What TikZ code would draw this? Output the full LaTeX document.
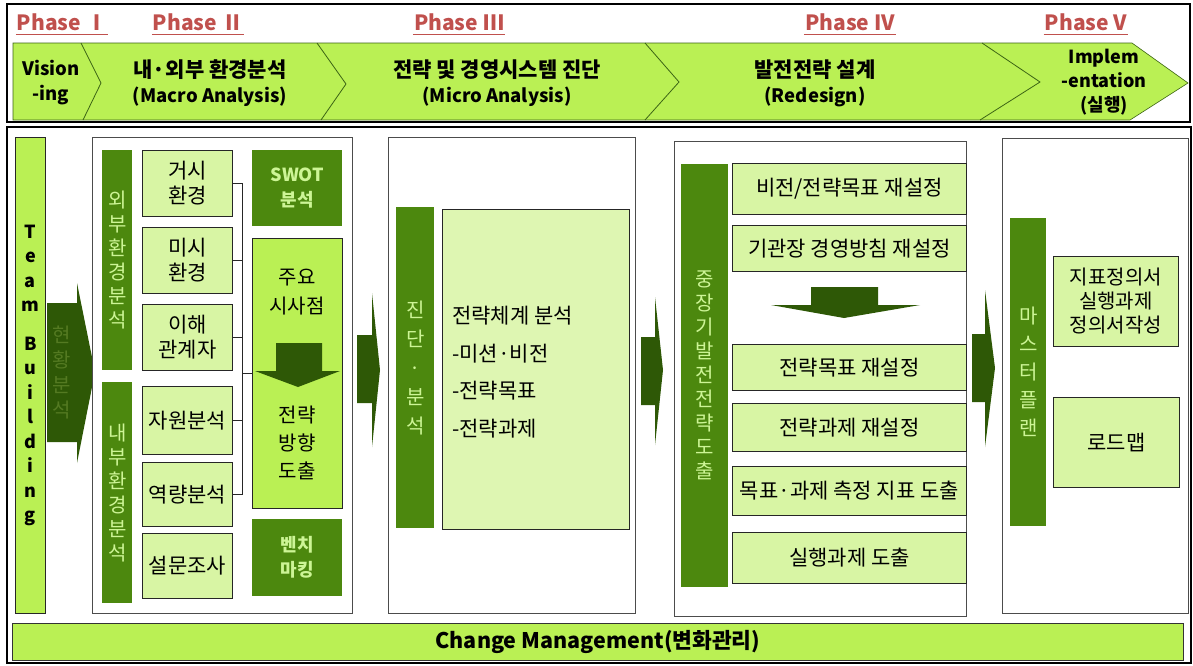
\documentclass[tikz,border=0pt]{standalone}
\usepackage{fontspec}
\setmainfont{Noto Sans CJK KR}
\usepackage{xcolor}
\usepackage{tikz}
\definecolor{bandgreen}{RGB}{186,240,84}
\definecolor{boxlight}{RGB}{216,245,164}
\definecolor{darkbar}{RGB}{76,136,14}
\definecolor{darkarrow}{RGB}{46,88,6}
\definecolor{barletter}{RGB}{205,245,150}
\definecolor{phasered}{RGB}{192,80,77}
\definecolor{bandline}{RGB}{60,100,20}
\definecolor{hyeonhwang}{RGB}{84,122,34}
\tikzset{
  ph_lab/.style = {text=phasered, inner xsep=1pt, inner ysep=0pt,
    font=\bfseries\fontsize{21}{21}\selectfont},% phase label
  band_txt/.style = {align=center, inner sep=0pt,
    font=\bfseries\fontsize{18.5}{25}\selectfont},% chevron band text
  panel/.style = {draw=black!70, line width=0.8pt, fill=white,
    anchor=north west, inner sep=0pt},% white phase panel
  box_l/.style = {draw=black!85, line width=0.8pt, fill=boxlight, anchor=north west,
    inner sep=0pt, align=center, font=\fontsize{21}{25}\selectfont},% light box
  box_g/.style = {box_l, fill=bandgreen},% band green box
  box_d/.style = {fill=darkbar, text=barletter, anchor=north west, inner sep=0pt,
    align=center, font=\bfseries\fontsize{18}{25}\selectfont},% dark box
  bar_v/.style = {fill=darkbar, text=barletter, anchor=north west, inner sep=0pt,
    align=center, font=\fontsize{20}{24}\selectfont}% vertical dark bar
}
\begin{document}
\begin{tikzpicture}[x=1pt,y=-1pt]
\useasboundingbox (0,0) rectangle (1193,665);
% phase header
\filldraw[fill=bandgreen, draw=bandline, line width=0.6pt]
  (13,43) -- (1132,43) -- (1188,83) -- (1130,120) -- (13,120) -- cycle;
\draw[bandline, line width=0.8pt] (81,43) -- (101,83) -- (83,120);
\draw[bandline, line width=0.8pt] (317,43) -- (346,84) -- (321,120);
\draw[bandline, line width=0.8pt] (645,43) -- (679,82) -- (645,120);
\draw[bandline, line width=0.8pt] (982,43) -- (1040,82) -- (980,120);
\draw[black, line width=2.5pt] (7,4) rectangle (1190,122);
\node[ph_lab] (ph1) at (62,22) {Phase Ⅰ};
\node[ph_lab] (ph2) at (198,22) {Phase Ⅱ};
\node[ph_lab] (ph3) at (459,22) {Phase Ⅲ};
\node[ph_lab] (ph4) at (850,22) {Phase IV};
\node[ph_lab] (ph5) at (1086,22) {Phase V};
\foreach \p in {ph1,ph2,ph3,ph4,ph5}
  \draw[phasered, line width=0.9pt] ([yshift=-4pt]\p.base west) -- ([yshift=-4pt]\p.base east);
\node[band_txt] (vis) at (51,83) {Vision\\-ing};
\node[band_txt] (macro) at (210,83) {{\fontsize{21}{25}\selectfont 내·외부 환경분석}\\(Macro Analysis)};
\node[band_txt] (micro) at (497,83) {{\fontsize{21}{25}\selectfont 전략 및 경영시스템 진단}\\(Micro Analysis)};
\node[band_txt] (redesign) at (815,83) {{\fontsize{21}{25}\selectfont 발전전략 설계}\\(Redesign)};
\node[band_txt, font=\bfseries\fontsize{18}{24}\selectfont] (impl) at (1104,82)
  {Implem\\-entation\\(실행)};
% body
\draw[black, line width=2pt] (7,127) rectangle (1191,663);
\node[draw=black!85, line width=0.8pt, fill=bandgreen, anchor=north west, inner sep=0pt,
  minimum width=30pt, minimum height=476pt] (team) at (15,137) {};
\node[align=center, font=\bfseries\fontsize{18}{24.5}\selectfont] (teamtxt) at (team.center)
  {T\\e\\a\\m\\[14pt]B\\u\\i\\l\\d\\i\\n\\g};
\fill[darkarrow] (47,303) -- (77,303) -- (77,283) -- (95,372) -- (77,463) -- (77,442)
  -- (47,442) -- cycle;
\node[align=center, text=hyeonhwang, font=\fontsize{20}{25}\selectfont] (hyeon) at (62,372)
  {현\\황\\분\\석};
% phase II panel
\node[panel, minimum width=260pt, minimum height=476pt] (p2) at (92,137) {};
\node[bar_v, minimum width=30pt, minimum height=220pt] (ext) at (102,150) {외\\부\\환\\경\\분\\석};
\node[bar_v, minimum width=30pt, minimum height=221pt] (int) at (102,382) {내\\부\\환\\경\\분\\석};
\node[box_l, minimum width=90pt, minimum height=66pt] (geosi) at (142,150) {거시\\환경};
\node[box_l, minimum width=90pt, minimum height=66pt] (misi) at (142,227) {미시\\환경};
\node[box_l, minimum width=90pt, minimum height=66pt] (ihae) at (142,304) {이해\\관계자};
\node[box_l, minimum width=90pt, minimum height=68pt] (jawon) at (142,386) {자원분석};
\node[box_l, minimum width=90pt, minimum height=64pt] (yeok) at (142,462) {역량분석};
\node[box_l, minimum width=90pt, minimum height=65pt] (seol) at (142,533) {설문조사};
\node[box_d, minimum width=90pt, minimum height=76pt] (swot) at (252,150) {SWOT\\분석};
\node[box_g, minimum width=90pt, minimum height=270pt] (jooyo) at (252,238) {};
\node[box_d, minimum width=90pt, minimum height=77pt] (bench) at (252,519) {벤치\\마킹};
\node[align=center, font=\fontsize{20}{29}\selectfont] (jooyotxt) at (297,292) {주요\\시사점};
\node[align=center, font=\fontsize{20}{28}\selectfont] (jeonryak) at (297,443) {전략\\방향\\도출};
\fill[darkarrow] (276,343) -- (322,343) -- (322,371) -- (340,371) -- (298,387) -- (255,371)
  -- (276,371) -- cycle;
\coordinate (hub) at (242,373);
\foreach \n in {geosi,misi,ihae,jawon,yeok}
  \draw[black!85, line width=0.8pt] (\n.east) -| (hub);
\draw[black!85, line width=0.8pt] (hub) -- (jooyo.west |- hub);
\fill[darkarrow] (357,335) -- (372,335) -- (372,293) -- (380,370) -- (372,447) -- (372,403)
  -- (357,403) -- cycle;
% phase III panel
\node[panel, minimum width=247pt, minimum height=476pt] (p3) at (388,137) {};
\node[bar_v, minimum width=38pt, minimum height=321pt, font=\fontsize{20}{29}\selectfont]
  (diag) at (396,207) {진\\단\\·\\분\\석};
\node[box_l, minimum width=187pt, minimum height=320pt, fill=boxlight!85!white] (sysbox) at (442,209) {};
\node[anchor=west, align=left, inner sep=0pt, font=\fontsize{21}{37.5}\selectfont] (systxt) at (452,372)
  {전략체계 분석\\-미션·비전\\-전략목표\\-전략과제};
\fill[darkarrow] (641,337) -- (655,337) -- (655,297) -- (663,370) -- (655,445) -- (655,405)
  -- (641,405) -- cycle;
% phase IV panel
\node[panel, minimum width=292pt, minimum height=475pt] (p4) at (674,141) {};
\node[bar_v, minimum width=47pt, minimum height=423pt] (midlong) at (681,164)
  {중\\장\\기\\발\\전\\전\\략\\도\\출};
\node[box_l, minimum width=234pt, minimum height=51pt] (vision) at (732,163) {비전/전략목표 재설정};
\node[box_l, minimum width=234pt, minimum height=46pt] (head) at (732,225) {기관장 경영방침 재설정};
\node[box_l, minimum width=234pt, minimum height=46pt] (goal) at (732,344) {전략목표 재설정};
\node[box_l, minimum width=234pt, minimum height=48pt] (task) at (732,403) {전략과제 재설정};
\node[box_l, minimum width=234pt, minimum height=49pt] (kpi) at (732,466) {목표·과제 측정 지표 도출};
\node[box_l, minimum width=234pt, minimum height=51pt] (exec) at (732,532) {실행과제 도출};
\fill[darkarrow] (811,287) -- (878,287) -- (878,305) -- (920,305) -- (844,318) -- (771,305)
  -- (811,305) -- cycle;
\fill[darkarrow] (972,334) -- (985,334) -- (985,290) -- (995,368) -- (985,447) -- (985,402)
  -- (972,402) -- cycle;
% phase V panel
\node[panel, minimum width=186pt, minimum height=475pt] (p5) at (1002,138) {};
\node[bar_v, minimum width=36pt, minimum height=308pt, font=\fontsize{20}{28}\selectfont]
  (master) at (1010,218) {마\\스\\터\\플\\랜};
\node[box_l, minimum width=125pt, minimum height=90pt, font=\fontsize{20}{24}\selectfont]
  (kpidef) at (1053,256) {지표정의서\\실행과제\\정의서작성};
\node[box_l, minimum width=126pt, minimum height=90pt] (roadmap) at (1053,397) {로드맵};
% change management
\node[draw=black!80, line width=0.8pt, fill=bandgreen, anchor=north west, inner sep=0pt,
  minimum width=1171pt, minimum height=37pt, font=\bfseries\fontsize{21.5}{21.5}\selectfont]
  (change) at (12,623) {Change Management(변화관리)};
\end{tikzpicture}
\end{document}
